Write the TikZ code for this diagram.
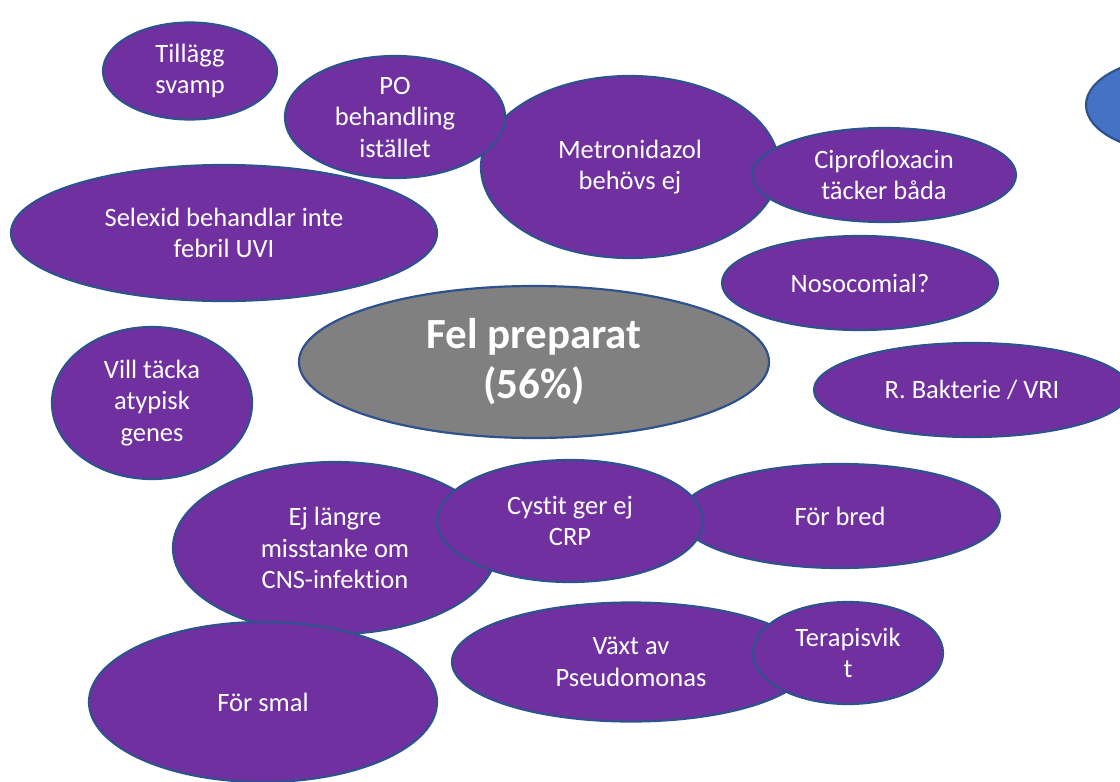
\documentclass[tikz,border=0pt]{standalone}
\usepackage{fontspec}
\setmainfont{Carlito}[Ligatures=NoCommon]
\usetikzlibrary{shapes.geometric}
\definecolor{pfill}{HTML}{7030A0}
\definecolor{pedge}{HTML}{2F528F}
\definecolor{gfill}{HTML}{808080}
\definecolor{bfill}{HTML}{4472C4}
\tikzset{
  bub/.style={ellipse, draw=pedge, line width=2.2pt, fill=pfill, text=white,
    inner sep=0pt, align=center, font=\fontsize{26.5}{31.5}\selectfont},
  core/.style={bub, fill=gfill, font=\fontsize{43}{50}\selectfont\bfseries},
}
\begin{document}
\begin{tikzpicture}[x=1pt,y=-1pt]
\useasboundingbox (0,0) rectangle (1120,782);
\clip (0,0) rectangle (1120,782);
\node[bub, minimum width=174pt, minimum height=97pt] (tillagg) at (190,71) {Tillägg\\svamp};
\node[bub, minimum width=298pt, minimum height=182pt] (metro) at (630,167) {Metronidazol\\behövs ej};
\node[bub, minimum width=220pt, minimum height=122pt] (po) at (395,117) {PO\\behandling\\istället};
\node[bub, minimum width=264pt, minimum height=94pt] (cipro) at (884,175) {Ciprofloxacin\\täcker båda};
\node[bub, minimum width=426pt, minimum height=136pt] (selexid) at (224,233) {Selexid behandlar inte\\febril UVI};
\node[bub, minimum width=276pt, minimum height=94pt] (noso) at (860,283) {Nosocomial?};
\node[core, minimum width=470pt, minimum height=152pt] (fel) at (534,362) {Fel preparat\\(56\%)};
\node[bub, minimum width=200pt, minimum height=152pt] (vill) at (152,403) {Vill täcka\\atypisk\\genes};
\node[bub, minimum width=316pt, minimum height=94pt] (rbakt) at (972,390) {R. Bakterie / VRI};
\node[bub, minimum width=324pt, minimum height=172pt] (ejlangre) at (335,548) {Ej längre\\misstanke om\\CNS-infektion};
\node[bub, minimum width=320pt, minimum height=104pt] (bred) at (840,516) {För bred};
\node[bub, minimum width=266pt, minimum height=122pt] (cystit) at (570,521) {Cystit ger ej\\CRP};
\node[bub, minimum width=358pt, minimum height=119pt] (vaxt) at (631,662) {Växt av\\Pseudomonas};
\node[bub, minimum width=190pt, minimum height=102pt] (terapi) at (848,653) {Terapisvik\\t};
\node[bub, minimum width=348pt, minimum height=160pt] (smal) at (263,702) {För smal};
\node[bub, fill=bfill, minimum width=190pt, minimum height=96pt] (blue) at (1181,105) {};
\end{tikzpicture}
\end{document}
